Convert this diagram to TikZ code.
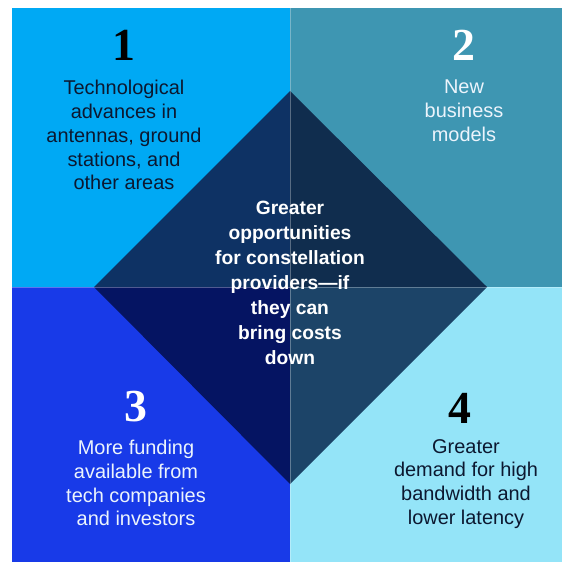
\documentclass[tikz,border=0pt]{standalone}
\usepackage{fontspec}
\setmainfont{Liberation Sans}
\newfontfamily\numfont{Liberation Serif}
\definecolor{quadone}{RGB}{0,169,244}
\definecolor{quadtwo}{RGB}{62,150,178}
\definecolor{quadthree}{RGB}{24,58,232}
\definecolor{quadfour}{RGB}{148,228,248}
\definecolor{coreone}{RGB}{14,50,100}
\definecolor{coretwo}{RGB}{16,45,78}
\definecolor{corethree}{RGB}{5,20,98}
\definecolor{corefour}{RGB}{28,68,104}
\definecolor{inkdark}{RGB}{12,24,48}
\definecolor{inklight}{RGB}{236,244,252}
\tikzset{
  % Big serif number at the top of each quadrant.
  step-num/.style={
    font=\numfont\bfseries\fontsize{46}{46}\selectfont,
    inner sep=0pt, anchor=center,
  },
  % Quadrant description.
  quad-text/.style={
    align=center, inner sep=0pt,
    font=\fontsize{20}{24}\selectfont,
  },
  % Centre statement inside the diamond.
  core-text/.style={
    align=center, inner sep=0pt, text=white,
    font=\bfseries\fontsize{19.3}{25}\selectfont,
  },
  divider/.style={draw=white, draw opacity=0.3, line width=0.6bp},
}
\begin{document}
\begin{tikzpicture}[x=1bp, y=-1bp]

  \useasboundingbox (0,0) rectangle (562,562);
  \fill[white] (0,0) rectangle (562,562);

  % Four quadrants.
  \fill[quadone]   (12,8)    rectangle (290,287);
  \fill[quadtwo]   (290,8)   rectangle (562,287);
  \fill[quadthree] (12,287)  rectangle (290,562);
  \fill[quadfour]  (290,287) rectangle (562,562);

  % Diamond, one triangle per quadrant.
  \fill[coreone]   (290,287) -- (290,91)  -- (94,287)  -- cycle;
  \fill[coretwo]   (290,287) -- (290,91)  -- (487,287) -- cycle;
  \fill[corethree] (290,287) -- (290,484) -- (94,287)  -- cycle;
  \fill[corefour]  (290,287) -- (290,484) -- (487,287) -- cycle;

  % Thin dividers between quadrants.
  \draw[divider] (290,8) -- (290,562);
  \draw[divider] (12,287) -- (562,287);

  % Quadrant 1.
  \node[step-num, text=black] (num1) at (124,45) {1};
  \node[quad-text, text=inkdark] (txt1) at (124,135)
    {Technological\\advances in\\antennas, ground\\stations, and\\other areas};

  % Quadrant 2.
  \node[step-num, text=white] (num2) at (464,45) {2};
  \node[quad-text, text=inklight] (txt2) at (464,111)
    {New\\business\\models};

  % Quadrant 3.
  \node[step-num, text=white] (num3) at (136,407) {3};
  \node[quad-text, text=inklight] (txt3) at (136,483)
    {More funding\\available from\\tech companies\\and investors};

  % Quadrant 4.
  \node[step-num, text=black] (num4) at (460,408) {4};
  \node[quad-text, text=inkdark] (txt4) at (466,484)
    {Greater\\demand for high\\bandwidth and\\lower latency};

  % Centre.
  \node[core-text] (core) at (290,283)
    {Greater\\opportunities\\for constellation\\providers---if\\they can\\bring costs\\down};

\end{tikzpicture}
\end{document}
